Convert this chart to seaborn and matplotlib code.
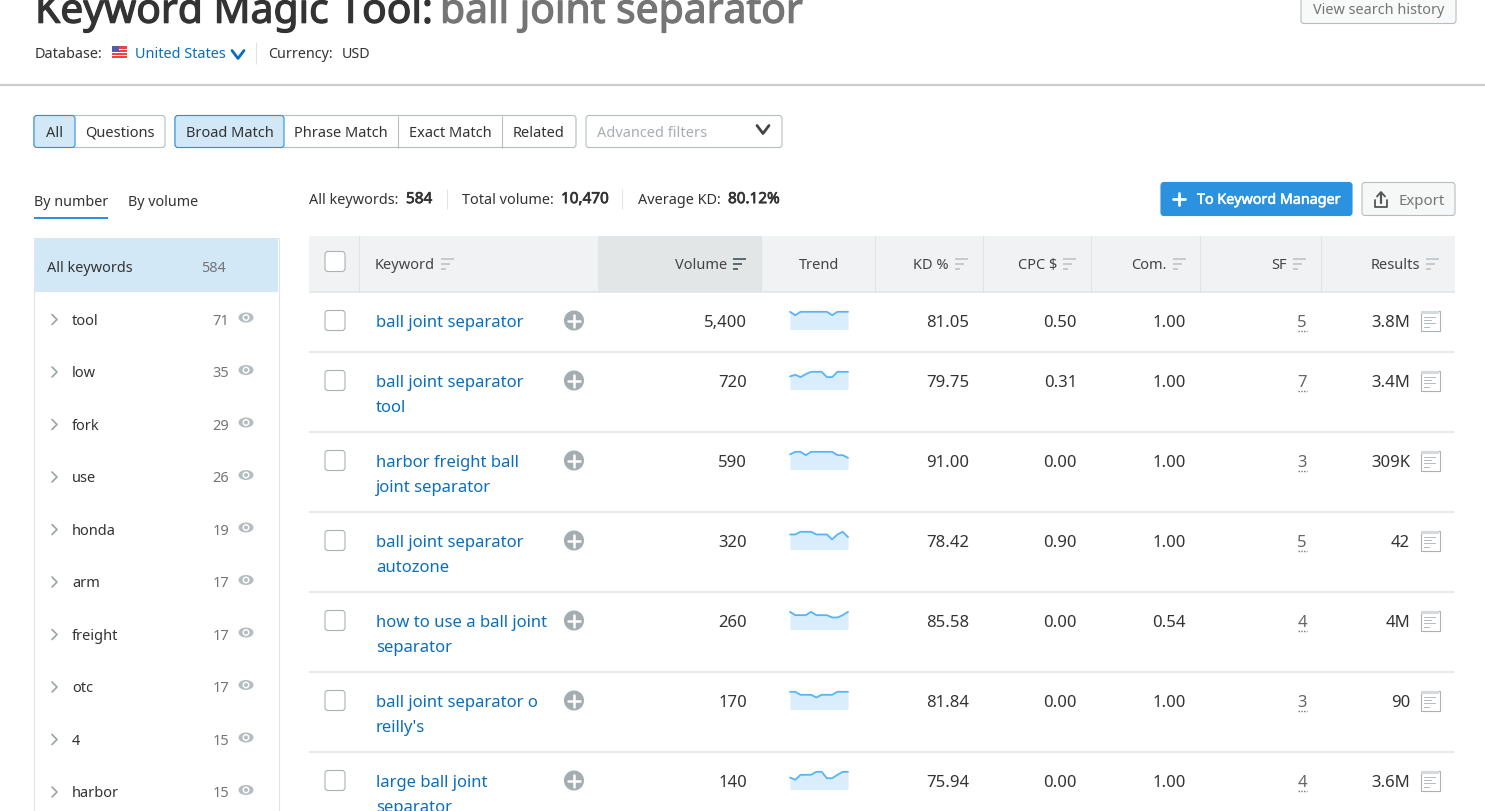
import numpy as np
import pandas as pd
import seaborn as sns
import matplotlib.pyplot as plt
import matplotlib.patheffects as pe
from matplotlib.patches import Rectangle, FancyBboxPatch, Circle, Ellipse

# keyword table
keywords = ["ball joint separator", "ball joint separator\ntool", "harbor freight ball\njoint separator",
            "ball joint separator\nautozone", "how to use a ball joint\nseparator",
            "ball joint separator o\nreilly's", "large ball joint\nseparator"]
volumes = ["5,400", "720", "590", "320", "260", "170", "140"]
kd = ["81.05", "79.75", "91.00", "78.42", "85.58", "81.84", "75.94"]
cpc = ["0.50", "0.31", "0.00", "0.90", "0.00", "0.00", "0.00"]
com = ["1.00", "1.00", "1.00", "1.00", "0.54", "1.00", "1.00"]
sf = ["5", "7", "3", "5", "4", "3", "4"]
results = ["3.8M", "3.4M", "309K", "42", "4M", "90", "3.6M"]

# monthly trend for each keyword, in percent of the peak
trends = [
    [100, 81, 100, 100, 100, 100, 100, 100, 81, 100, 100, 100],
    [74, 83, 70, 87, 100, 100, 100, 70, 70, 100, 100, 100],
    [85, 100, 100, 81, 100, 100, 100, 100, 100, 81, 81, 66],
    [85, 85, 100, 100, 100, 85, 85, 85, 57, 85, 100, 70],
    [100, 81, 81, 81, 100, 81, 81, 81, 68, 68, 81, 100],
    [100, 100, 83, 83, 83, 68, 83, 83, 83, 100, 100, 100],
    [68, 55, 83, 83, 83, 100, 100, 64, 64, 83, 100, 100],
]
months = list(range(12))

groups = ["tool", "low", "fork", "use", "honda", "arm", "freight", "otc", "4", "harbor"]
group_counts = [71, 35, 29, 26, 19, 17, 17, 17, 15, 15]

header_names = ["Volume", "KD %", "CPC $", "Com.", "SF", "Results"]

sns.set_theme(style="white")
plt.rcParams['font.family'] = ['Noto Sans', 'DejaVu Sans']

DARK = "#333333"
GRAY = "#757575"
BLUE = "#0a6ebd"
LINE = "#e0e4e6"
ICON = "#a4adb0"

fig = plt.figure(figsize=(14.85, 8.12), dpi=100, facecolor="white")
ax = fig.add_axes([0, 0, 1, 1])
ax.set_xlim(0, 1485)
ax.set_ylim(811.5, -0.5)
ax.axis("off")


def txt(x, y, s, size=10.5, color=DARK, ha="left", heavy=0, z=5):
    # y is the middle of the capitals, the text sits on its baseline
    shift = 0.5 * size if size >= 11.5 else 0.42 * size
    t = ax.text(x, y + shift, s, fontsize=size, color=color, ha=ha, va="baseline", zorder=z)
    if heavy:
        # the installed family has no usable bold face here
        t.set_path_effects([pe.withStroke(linewidth=heavy, foreground=color)])
    return t


def box(x0, y0, x1, y1, fc="white", ec="none", lw=0.8, z=1):
    ax.add_patch(Rectangle((x0, y0), x1 - x0, y1 - y0, facecolor=fc, edgecolor=ec, linewidth=lw, zorder=z))


def rbox(x0, y0, x1, y1, fc="white", ec="#b5bdc0", lw=0.8, r=3, z=1):
    ax.add_patch(FancyBboxPatch((x0 + r, y0 + r), x1 - x0 - 2 * r, y1 - y0 - 2 * r,
                                boxstyle=f"round,pad={r},rounding_size={r}",
                                facecolor=fc, edgecolor=ec, linewidth=lw, zorder=z))


def hline(y, x0, x1, color=LINE, lw=1.1):
    ax.plot([x0, x1], [y, y], color=color, lw=lw, solid_capstyle="butt", zorder=2)


def vline(x, y0, y1, color=LINE, lw=0.8):
    ax.plot([x, x], [y0, y1], color=color, lw=lw, solid_capstyle="butt", zorder=2)


def sort_icon(x, y, color="#c5cbce"):
    for i, w in enumerate([13, 9, 5]):
        box(x, y - 6 + i * 5, x + w, y - 3.2 + i * 5, fc=color, z=3)


def chevron_down(x, y, color=DARK, w=6, h=4, lw=1.8):
    ax.plot([x - w, x, x + w], [y - h, y + h, y - h], color=color, lw=lw, zorder=3)


# header of the page
txt(35, 8.5, "Keyword Magic Tool:", size=29.4, heavy=0.9)
txt(440, 8.5, "ball joint separator", size=29.4, color="#757575", heavy=0.9)
rbox(1301, -6, 1456, 24, fc="#f8f9f9")
txt(1313, 9, "View search history", size=10.4, color=GRAY)

txt(35, 53, "Database:", size=10.4)
box(112, 46, 127, 58, fc="#f0404a")
for yy in [49, 52, 55]:
    box(112, yy, 127, yy + 1.2, fc="white", z=2)
box(112, 46, 119, 52, fc="#4c5fb0", z=3)
txt(135, 53, "United States", color=BLUE, size=10.4)
chevron_down(238, 55, color=BLUE, w=6, h=4, lw=2)
vline(256, 42, 64)
txt(268, 53, "Currency:", size=10.3)
txt(342, 53, "USD", size=10.3)
hline(85, 0, 1485, color="#cccccc", lw=1.6)

# match type buttons
SEL = "#d3e8f7"
rbox(34, 116, 165, 148)
rbox(34, 116, 75, 148, fc=SEL, ec="#2a92df", z=2)
txt(54.5, 132, "All", ha="center")
txt(120, 132, "Questions", ha="center")
rbox(175, 116, 576, 148)
rbox(175, 116, 284, 148, fc=SEL, ec="#2a92df", z=2)
vline(398, 116, 148, color="#b5bdc0")
vline(502, 116, 148, color="#b5bdc0")
txt(229.5, 132, "Broad Match", ha="center")
txt(341, 132, "Phrase Match", ha="center")
txt(450, 132, "Exact Match", ha="center")
txt(539, 132, "Related", ha="center")
rbox(586, 116, 782, 148)
txt(597, 132, "Advanced filters", color="#a8adb0")
chevron_down(763, 130, color="#444444", w=6, h=4, lw=2)

# sidebar tabs and summary
txt(34, 201, "By number", size=10.3)
txt(128, 201, "By volume", size=10.3)
box(34, 217, 108, 219, fc="#2a92df")
txt(309, 199, "All keywords:", size=10.4)
txt(406, 199, "584", size=11, heavy=0.5)
vline(447, 189, 209)
txt(462, 199, "Total volume:", size=10.4)
txt(561, 199, "10,470", size=11, heavy=0.5)
vline(622, 189, 209)
txt(638, 199, "Average KD:", size=10.4)
txt(728, 199, "80.12%", size=11, heavy=0.5)

rbox(1161, 183, 1352, 216, fc="#2a92df", ec="#2a92df")
ax.plot([1173, 1185], [199.5, 199.5], color="white", lw=2, zorder=3)
ax.plot([1179, 1179], [193.5, 205.5], color="white", lw=2, zorder=3)
txt(1197, 200, "To Keyword Manager", size=10.3, color="white", heavy=0.4)
rbox(1362, 183, 1455, 216, fc="#f6f7f7")
ax.plot([1375, 1375, 1387, 1387], [200, 207, 207, 200], color="#555555", lw=1.3, zorder=3)
ax.plot([1381, 1381], [193, 203], color="#555555", lw=1.6, zorder=3)
ax.plot([1377, 1381, 1385], [197, 192.5, 197], color="#555555", lw=1.3, zorder=3)
txt(1398, 200, "Export", size=10.8, color=GRAY)

# sidebar list
box(34, 238.5, 278.5, 830, fc="white", ec=LINE)
box(34.5, 239, 278, 292, fc=SEL, z=2)
txt(47, 267, "All keywords", size=10.4)
txt(226, 267, "584", color=GRAY, ha="right", size=10.4)
for i, (name, n) in enumerate(zip(groups, group_counts)):
    y = 320 + 52.5 * i
    ax.plot([52, 57, 52], [y - 5, y, y + 5], color="#9aa3a6", lw=1.2, zorder=3)
    txt(72, y, name, size=10.5)
    txt(229, y, str(n), ha="right", color=GRAY, size=10.5)
    ax.add_patch(Ellipse((246, y - 2), 15, 10, facecolor="#b4bdc0", edgecolor="none", zorder=3))
    ax.add_patch(Circle((246, y - 2), 3.5, facecolor="white", edgecolor="none", zorder=4))
    ax.add_patch(Circle((246, y - 2), 2, facecolor="#b4bdc0", edgecolor="none", zorder=5))

# table header
box(309, 236, 1455, 292, fc="#f0f2f4")
box(598, 236, 761, 292, fc="#e3e6e7", z=1.5)
for x in [359, 761, 875, 983, 1091, 1200, 1321]:
    vline(x, 236, 292)
rbox(325, 252, 345, 272, ec="#a9b2b5", z=3)
txt(375, 264, "Keyword", color="#444444")
sort_icon(441, 264)
header_right = [727, 949, 1057, 1167, 1287, 1420]
for name, x in zip(header_names, header_right):
    txt(x, 264, name, color="#444444", ha="right")
    if name == "Volume":
        sort_icon(x + 6, 264, color="#5d6a70")
    else:
        sort_icon(x + 6, 264)
txt(819, 264, "Trend", color="#444444", ha="center")

# table rows
row_tops = [292, 352, 432, 512, 592, 672, 752]
df = pd.DataFrame({"kw": keywords, "vol": volumes, "kd": kd, "cpc": cpc, "com": com, "sf": sf, "res": results})
for top in row_tops:
    hline(top, 309, 1455)
for top, row, trend in zip(row_tops, df.itertuples(), trends):
    y = top + 29
    rbox(325, y - 10, 345, y + 10, ec="#a9b2b5")
    lines = row.kw.split("\n")
    for j, part in enumerate(lines):
        txt(376, y + 25 * j, part, color=BLUE, size=12)
    ax.add_patch(Circle((574, y), 10, facecolor=ICON, edgecolor="none", zorder=3))
    ax.plot([568, 580], [y, y], color="white", lw=1.8, zorder=4)
    ax.plot([574, 574], [y - 6, y + 6], color="white", lw=1.8, zorder=4)
    txt(747, y, row.vol, ha="right", size=12)
    txt(969, y, row.kd, ha="right", size=12)
    txt(1077, y, row.cpc, ha="right", size=12)
    txt(1186, y, row.com, ha="right", size=12)
    txt(1307, y, row.sf, ha="right", size=12, color="#666666")
    ax.plot([1298, 1307], [y + 10, y + 10], color="#777777", lw=1, ls=(0, (1, 1)), zorder=3)
    txt(1410, y, row.res, ha="right", size=12)
    # results icon
    box(1420.5, y - 10, 1439.5, y + 10, fc="white", ec="#a9b2b5", z=3)
    box(1421, y - 9.5, 1439, y - 7, fc="#d5dadc", z=4)
    for k, w in enumerate([12, 8, 12, 6]):
        box(1424, y - 4 + k * 3.4, 1424 + w, y - 3 + k * 3.4, fc="#b5bdc0", z=4)

    # trend sparkline on its own small axes
    spark = fig.add_axes([790 / 1485, 1 - (y + 9.5) / 812, 58 / 1485, 17.7 / 812])
    sns.lineplot(x=months, y=trend, ax=spark, color="#58b4f5", linewidth=1.3, clip_on=False)
    spark.fill_between(months, trend, 0, color="#d9edfc", linewidth=0)
    spark.set_xlim(0, 11)
    spark.set_ylim(0, 100)
    spark.axis("off")

fig.savefig("out.png", dpi=100)
